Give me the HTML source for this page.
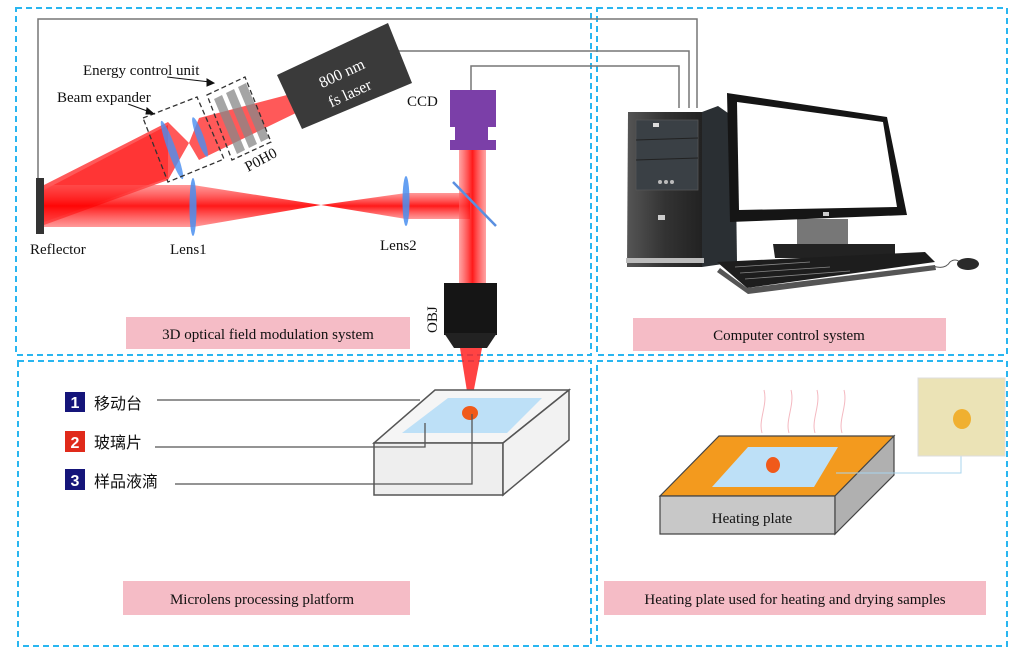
<!DOCTYPE html>
<html><head><meta charset="utf-8"><style>
html,body{margin:0;padding:0;background:#fff;}
svg{display:block;}
text{font-family:"Liberation Serif","Noto Serif CJK SC",serif;fill:#111;}
</style></head><body>
<svg width="1024" height="657" viewBox="0 0 1024 657" xmlns="http://www.w3.org/2000/svg">
<defs>
<linearGradient id="bm" x1="0" y1="0" x2="0" y2="1"><stop offset="0" stop-color="#f55" stop-opacity=".6"/><stop offset=".5" stop-color="#f00" stop-opacity=".9"/><stop offset="1" stop-color="#f55" stop-opacity=".6"/></linearGradient>
<linearGradient id="bv" x1="0" y1="0" x2="1" y2="0"><stop offset="0" stop-color="#f66" stop-opacity=".6"/><stop offset=".5" stop-color="#f00" stop-opacity=".9"/><stop offset="1" stop-color="#f66" stop-opacity=".6"/></linearGradient>
<linearGradient id="tw" x1="0" y1="0" x2="1" y2="0"><stop offset="0" stop-color="#555"/><stop offset=".5" stop-color="#333"/><stop offset="1" stop-color="#222"/></linearGradient>
</defs>
<!-- dashed boxes -->
<g fill="none" stroke="#29b6f0" stroke-width="2" stroke-dasharray="6,4">
<rect x="16" y="8" width="575" height="347"/>
<rect x="597" y="8" width="410" height="347"/>
<rect x="18" y="361" width="573" height="285"/>
<rect x="597" y="361" width="410" height="285"/>
</g>
<!-- wires -->
<g fill="none" stroke="#777" stroke-width="1.5">
<polyline points="38,178 38,19 697,19 697,108"/>
<polyline points="394,51 689,51 689,108"/>
<polyline points="471,90 471,66 679,66 679,108"/>
</g>
<!-- diagonal beam -->
<polygon points="44,185 168,122 189,143 199,118 287,95 298,112 199,160 189,143 168,180 44,225" fill="#f22" opacity=".75"/>
<polygon points="44,190 168,125 168,178 44,222" fill="#f00" opacity=".4"/>
<!-- horizontal beam -->
<polygon points="44,185 193,185 321,205 193,227 44,227" fill="url(#bm)"/>
<polygon points="321,205 406,193 470,193 470,219 406,219" fill="url(#bm)"/>
<!-- vertical beam -->
<rect x="459" y="150" width="27" height="133" fill="url(#bv)"/>
<!-- mirror -->
<line x1="453" y1="182" x2="496" y2="226" stroke="#5a8fe0" stroke-width="2.5"/>
<!-- lenses -->
<ellipse cx="193" cy="207" rx="3.5" ry="29" fill="#4a8ff0" opacity=".85"/>
<ellipse cx="406" cy="201" rx="3.5" ry="25" fill="#4a8ff0" opacity=".85"/>
<ellipse cx="172" cy="150" rx="4" ry="31" fill="#4a8ff0" opacity=".8" transform="rotate(-20 172 150)"/>
<ellipse cx="200" cy="137" rx="3.5" ry="21" fill="#4a8ff0" opacity=".8" transform="rotate(-20 200 137)"/>
<!-- energy unit bars -->
<g fill="#888" opacity=".75">
<polygon points="214,99 222,95 245,150 237,154"/>
<polygon points="226,93 234,89 257,144 249,148"/>
<polygon points="238,87 246,83 269,138 261,142"/>
</g>
<!-- dashed device boxes -->
<g fill="none" stroke="#333" stroke-width="1.3" stroke-dasharray="5,3">
<polygon points="143,118 197,97 224,159 168,182"/>
<polygon points="207,95 245,77 271,142 232,160"/>
</g>
<!-- arrows -->
<g stroke="#111" stroke-width="1" fill="#111">
<line x1="167" y1="77" x2="210" y2="82"/><polygon points="214,83 207,79 207,86"/>
<line x1="128" y1="104" x2="150" y2="112"/><polygon points="154,114 147,108 146,114"/>
</g>
<!-- laser -->
<polygon points="277,75 388,23 412,83 302,129" fill="#3a3a3a"/>
<text x="344" y="78" font-size="16" fill="#fff" style="fill:#fff" transform="rotate(-25 344 78)" text-anchor="middle">800 nm</text>
<text x="352" y="98" font-size="16" style="fill:#fff" transform="rotate(-25 352 98)" text-anchor="middle">fs laser</text>
<!-- reflector -->
<rect x="36" y="178" width="8" height="56" fill="#333"/>
<!-- CCD -->
<rect x="450" y="90" width="46" height="37" fill="#7b3fa8"/>
<rect x="455" y="127" width="33" height="13" fill="#7b3fa8"/>
<rect x="450" y="140" width="46" height="10" fill="#7b3fa8"/>
<!-- OBJ -->
<rect x="444" y="283" width="53" height="52" fill="#151515"/>
<polygon points="444,333 497,333 487,348 454,348" fill="#222"/>
<!-- cone -->
<polygon points="460,348 482,348 470,410" fill="#f22" opacity=".85"/>
<!-- labels top -->
<text x="83" y="75" font-size="15">Energy control unit</text>
<text x="57" y="102" font-size="15">Beam expander</text>
<text x="248" y="172" font-size="15" transform="rotate(-28 248 172)">P0H0</text>
<text x="407" y="106" font-size="15">CCD</text>
<text x="30" y="254" font-size="15">Reflector</text>
<text x="170" y="254" font-size="15">Lens1</text>
<text x="380" y="250" font-size="15">Lens2</text>
<text x="437" y="333" font-size="15" transform="rotate(-90 437 333)">OBJ</text>
<rect x="126" y="317" width="284" height="32" fill="#f5bcc6"/>
<text x="268" y="339" font-size="15" text-anchor="middle">3D optical field modulation system</text>
<rect x="633" y="318" width="313" height="33" fill="#f5bcc6"/>
<text x="789" y="340" font-size="15" text-anchor="middle">Computer control system</text>
<!-- computer tower -->
<polygon points="702,112 718,106 735,118 737,262 702,267" fill="#2a2f33"/>
<polygon points="628,112 702,112 702,267 627,267" fill="url(#tw)"/>
<rect x="636" y="120" width="62" height="70" fill="#3a4045" stroke="#555" stroke-width=".8"/>
<line x1="636" y1="140" x2="698" y2="138" stroke="#222"/><line x1="636" y1="160" x2="698" y2="158" stroke="#222"/>
<rect x="653" y="123" width="6" height="4" fill="#ddd"/>
<circle cx="660" cy="182" r="2" fill="#bbb"/><circle cx="666" cy="182" r="2" fill="#bbb"/><circle cx="672" cy="182" r="2" fill="#bbb"/>
<rect x="658" y="215" width="7" height="5" fill="#ccc"/>
<rect x="626" y="258" width="78" height="5" fill="#bbb"/>
<!-- monitor -->
<rect x="797" y="219" width="51" height="25" fill="#777"/>
<polygon points="773,244 895,244 895,258 775,258" fill="#222"/>
<polygon points="727,93 887,117 907,215 730,222" fill="#151515"/>
<polygon points="737,102 883,122 897,207 739,210" fill="#fff"/>
<rect x="823" y="212" width="6" height="4" fill="#ccc"/>
<!-- keyboard -->
<polygon points="717,262 925,252 935,262 747,288" fill="#1d1d1d"/>
<polygon points="720,268 747,288 935,265 936,270 748,294 717,272" fill="#555"/>
<g stroke="#888" stroke-width=".8"><line x1="735" y1="267" x2="810" y2="262"/><line x1="740" y1="273" x2="830" y2="267"/><line x1="745" y1="279" x2="850" y2="271"/></g>
<path d="M933,266 Q945,270 950,262 Q955,258 960,262" fill="none" stroke="#555"/>
<ellipse cx="968" cy="264" rx="11" ry="6" fill="#2a2a2a"/>
<!-- bottom left -->
<rect x="65" y="392" width="20" height="20" fill="#15157a"/><text x="75" y="408" font-size="16" text-anchor="middle" style="fill:#fff;font-family:'Liberation Sans',sans-serif;font-weight:bold">1</text>
<rect x="65" y="431" width="20" height="21" fill="#e02a1a"/><text x="75" y="448" font-size="16" text-anchor="middle" style="fill:#fff;font-family:'Liberation Sans',sans-serif;font-weight:bold">2</text>
<rect x="65" y="469" width="20" height="21" fill="#15157a"/><text x="75" y="486" font-size="16" text-anchor="middle" style="fill:#fff;font-family:'Liberation Sans',sans-serif;font-weight:bold">3</text>
<text x="94" y="409" font-size="16" style="font-family:'Noto Sans CJK SC',sans-serif">移动台</text>
<text x="94" y="448" font-size="16" style="font-family:'Noto Sans CJK SC',sans-serif">玻璃片</text>
<text x="94" y="487" font-size="16" style="font-family:'Noto Sans CJK SC',sans-serif">样品液滴</text>
<!-- stage box -->
<polygon points="435,390 569,390 503,443 374,443" fill="#f5f5f5" stroke="#555" stroke-width="1.5"/>
<polygon points="374,443 503,443 503,495 374,495" fill="#eee" stroke="#555" stroke-width="1.5"/>
<polygon points="569,390 569,440 503,495 503,443" fill="#f2f2f2" stroke="#555" stroke-width="1.5"/>
<polygon points="448,398 542,398 507,433 402,433" fill="#bde0f7"/>
<ellipse cx="470" cy="413" rx="8" ry="7" fill="#f05a1a"/>
<g fill="none" stroke="#555" stroke-width="1.3">
<line x1="157" y1="400" x2="420" y2="400"/>
<polyline points="155,447 425,447 425,423"/>
<polyline points="175,484 472,484 472,414"/>
</g>
<rect x="123" y="581" width="287" height="34" fill="#f5bcc6"/>
<text x="262" y="604" font-size="15" text-anchor="middle">Microlens processing platform</text>
<!-- heating plate -->
<g fill="none" stroke="#f4b8c0" stroke-width="1"><path d="M762,433 C758,420 768,405 764,390"/><path d="M789,433 C785,420 795,405 791,390"/><path d="M815,433 C811,420 821,405 817,390"/><path d="M842,433 C838,420 848,405 844,390"/></g>
<polygon points="719,436 894,436 835,496 660,496" fill="#f39a1e" stroke="#444" stroke-width="1.2"/>
<polygon points="660,496 835,496 835,534 660,534" fill="#c8c8c8" stroke="#444" stroke-width="1.2"/>
<polygon points="894,436 894,475 835,534 835,496" fill="#b0b0b0" stroke="#444" stroke-width="1.2"/>
<polygon points="748,447 838,447 814,487 712,487" fill="#bde0f7"/>
<ellipse cx="773" cy="465" rx="7" ry="8" fill="#f05a1a"/>
<text x="752" y="523" font-size="15" text-anchor="middle">Heating plate</text>
<polyline points="836,473 961,473 961,456" fill="none" stroke="#a8d4ee" stroke-width="1"/>
<rect x="918" y="378" width="87" height="78" fill="#ebe3b6" stroke="#ddd"/>
<ellipse cx="962" cy="419" rx="9" ry="10" fill="#f0b030"/>
<rect x="604" y="581" width="382" height="34" fill="#f5bcc6"/>
<text x="795" y="604" font-size="15" text-anchor="middle">Heating plate used for heating and drying samples</text>
</svg>
</body></html>
